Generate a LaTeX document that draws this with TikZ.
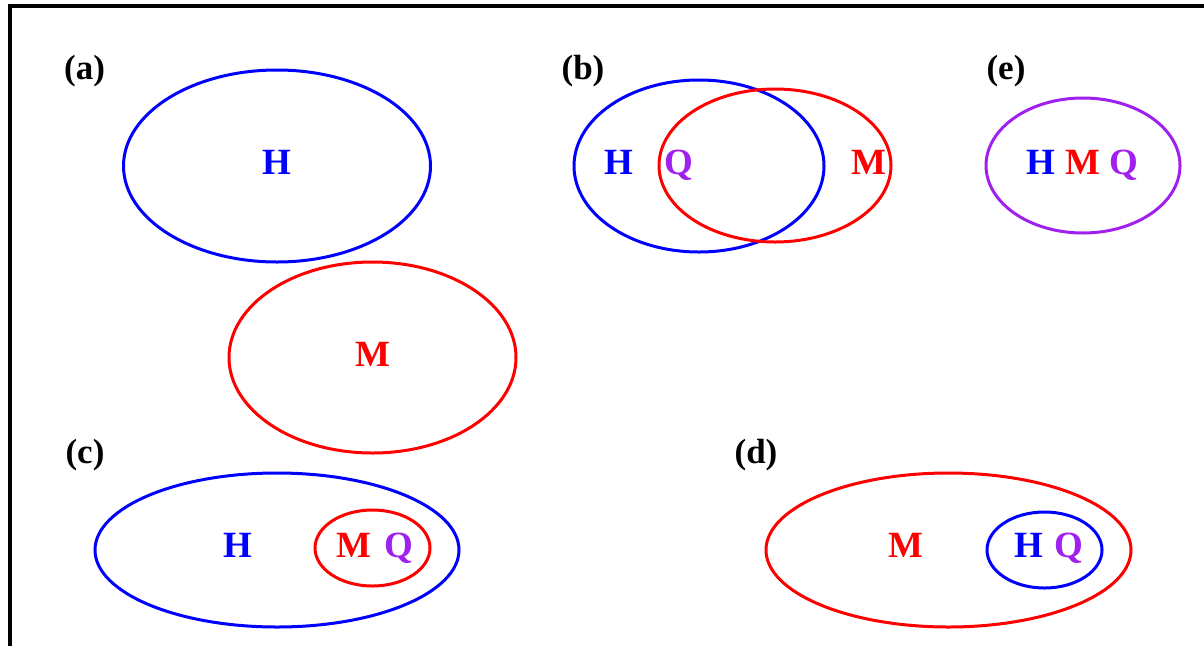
\documentclass[tikz,border=0pt]{standalone}
\usepackage{fontspec}
\setmainfont{Liberation Serif}
\definecolor{pblue}{RGB}{0,0,255}
\definecolor{pred}{RGB}{255,0,0}
\definecolor{ppurple}{RGB}{160,32,240}
\begin{document}
\begin{tikzpicture}[x=1pt,y=-1pt,
  ring/.style={line width=3pt},
  lab/.style={anchor=base,inner sep=0pt,font=\fontsize{35}{40}\selectfont\bfseries},
  let/.style={anchor=base,inner sep=0pt,font=\fontsize{37}{42}\selectfont\bfseries}]
\useasboundingbox (0,0) rectangle (1204,646);
% frame
\draw[line width=4pt] (10.3,646) -- (10.3,5.7) -- (1204,5.7);
% (a)
\node[lab] (la) at (84.5,79) {(a)};
\draw[ring,pblue] (277,166) ellipse [x radius=153.5, y radius=96];
\draw[ring,pred] (372.5,357.5) ellipse [x radius=143.5, y radius=95.5];
\node[let,pblue] (aH) at (277,174) {H};
\node[let,pred] (aM) at (372.5,366) {M};
% (b)
\node[lab] (lb) at (583,79) {(b)};
\draw[ring,pblue] (699,166) ellipse [x radius=125, y radius=86];
\draw[ring,pred] (775,165.5) ellipse [x radius=116, y radius=76.5];
\node[let,pblue] (bH) at (619,174) {H};
\node[let,ppurple] (bQ) at (679,174) {Q};
\node[let,pred] (bM) at (869,174) {M};
% (e)
\node[lab] (le) at (1006,79) {(e)};
\draw[ring,ppurple] (1083,165.5) ellipse [x radius=97, y radius=67.5];
\node[let,pblue] (eH) at (1041,174) {H};
\node[let,pred] (eM) at (1083,174) {M};
\node[let,ppurple] (eQ) at (1124,174) {Q};
% (c)
\node[lab] (lc) at (85,463) {(c)};
\draw[ring,pblue] (277,550) ellipse [x radius=182, y radius=77];
\draw[ring,pred] (372.5,548) ellipse [x radius=57.5, y radius=38];
\node[let,pblue] (cH) at (238,557.5) {H};
\node[let,pred] (cM) at (354,557.5) {M};
\node[let,ppurple] (cQ) at (399,557.5) {Q};
% (d)
\node[lab] (ld) at (756,463) {(d)};
\draw[ring,pred] (948.5,550) ellipse [x radius=182.5, y radius=77];
\draw[ring,pblue] (1044.5,550) ellipse [x radius=57.5, y radius=38];
\node[let,pred] (dM) at (906,557.5) {M};
\node[let,pblue] (dH) at (1029,557.5) {H};
\node[let,ppurple] (dQ) at (1069,557.5) {Q};
\end{tikzpicture}
\end{document}
